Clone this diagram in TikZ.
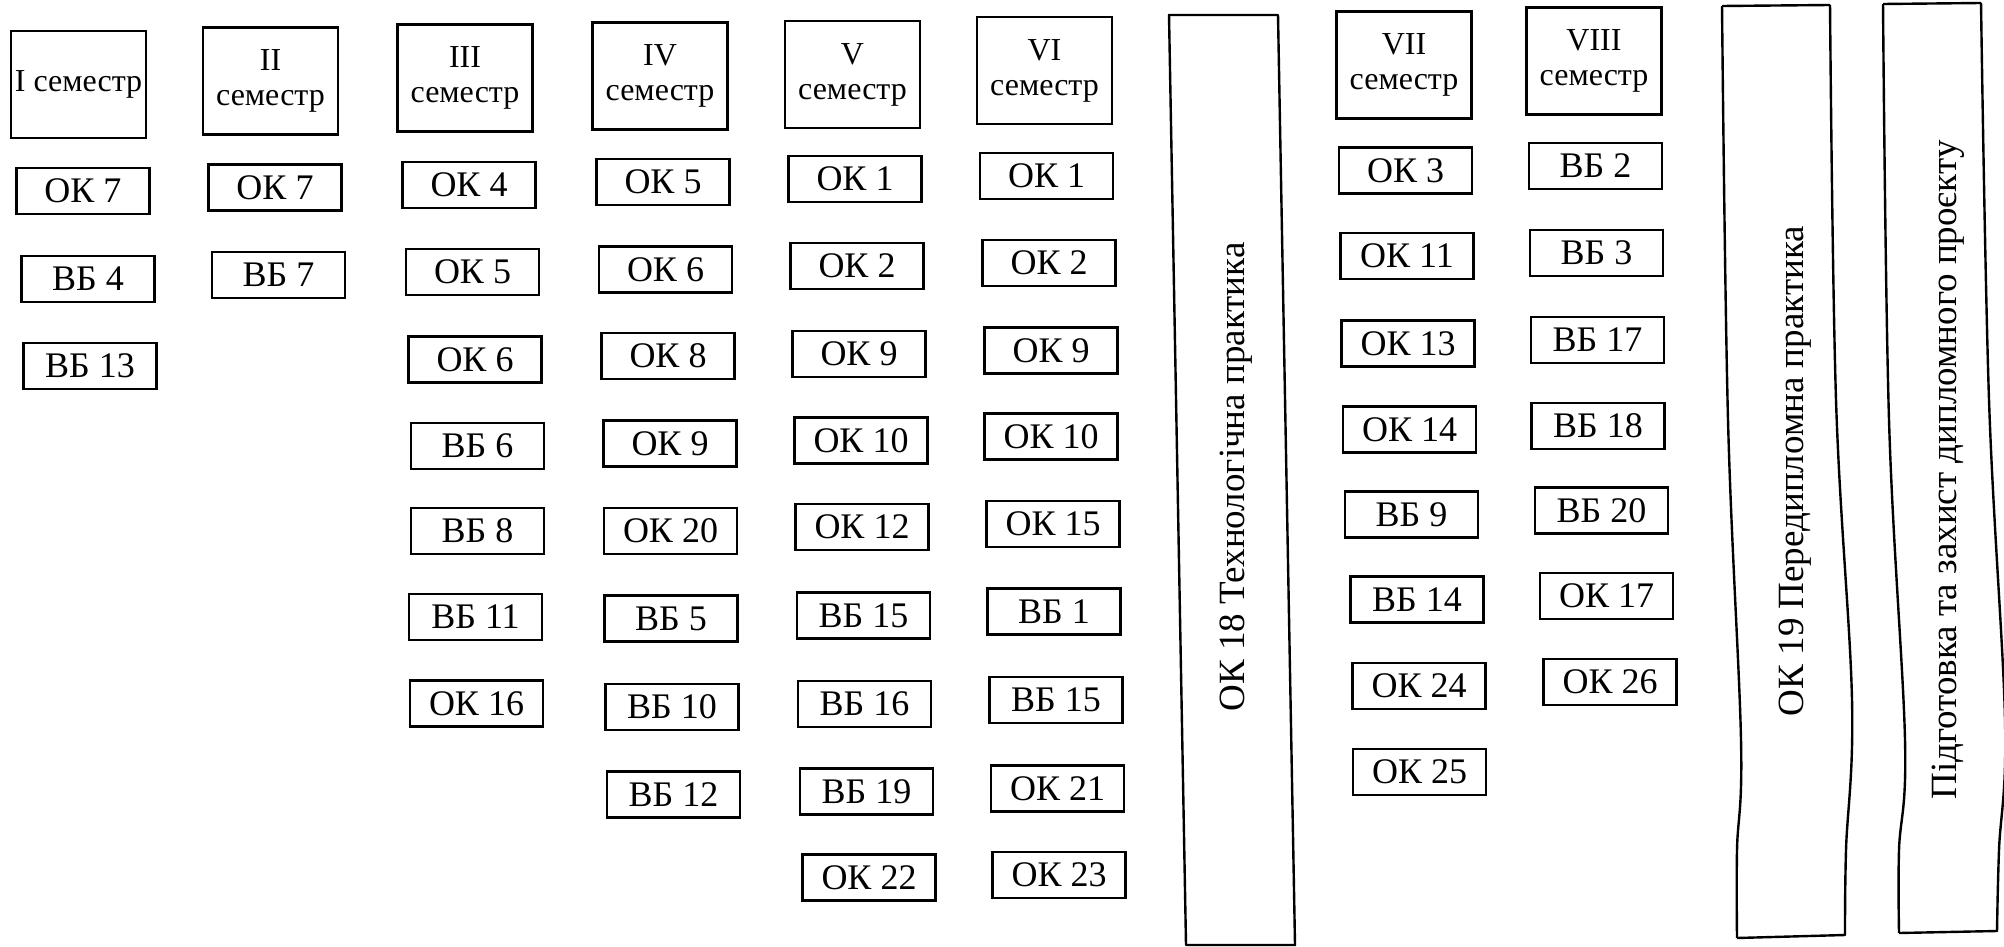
\documentclass[tikz,border=0pt]{standalone}
\usepackage{fontspec}
\setmainfont{Liberation Serif}
\begin{document}
\begin{tikzpicture}[x=1pt,y=-1pt,
  lab/.style={draw, line width=2.4pt, minimum width=133pt, minimum height=46pt, inner sep=0pt, font=\fontsize{36}{40}\selectfont},
  hdr/.style={draw, line width=2.4pt, minimum width=135pt, minimum height=107pt, inner sep=0pt, align=center, font=\fontsize{32}{35}\selectfont},
  vtext/.style={rotate=90, inner sep=0pt, font=\fontsize{37}{40}\selectfont},
  frm/.style={line width=2.4pt, line join=round}]
\useasboundingbox (0,0) rectangle (2004,947);
\fill[white] (0,0) rectangle (2004,947);
% Column I
\node[hdr] (h1) at (78.5,84.5) {I семестр};
\node[lab] (a1) at (83,191) {ОК 7};
\node[lab] (a2) at (88,279) {ВБ 4};
\node[lab] (a3) at (90,366) {ВБ 13};
% Column II
\node[hdr] (h2) at (270.5,81) {II\\семестр};
\node[lab] (b1) at (275,187.5) {ОК 7};
\node[lab] (b2) at (278.5,275) {ВБ 7};
% Column III
\node[hdr] (h3) at (465,78) {III\\семестр};
\node[lab] (c1) at (469,185) {ОК 4};
\node[lab] (c2) at (472.5,272) {ОК 5};
\node[lab] (c3) at (475,359.5) {ОК 6};
\node[lab] (c4) at (477.5,446) {ВБ 6};
\node[lab] (c5) at (477.5,531) {ВБ 8};
\node[lab] (c6) at (475.5,617) {ВБ 11};
\node[lab] (c7) at (476.5,703.5) {ОК 16};
% Column IV
\node[hdr] (h4) at (660,76) {IV\\семестр};
\node[lab] (d1) at (663,182) {ОК 5};
\node[lab] (d2) at (665.5,269.5) {ОК 6};
\node[lab] (d3) at (668,356) {ОК 8};
\node[lab] (d4) at (670,443.5) {ОК 9};
\node[lab] (d5) at (670.5,531) {ОК 20};
\node[lab] (d6) at (671,618.5) {ВБ 5};
\node[lab] (d7) at (672,707) {ВБ 10};
\node[lab] (d8) at (673.5,794.5) {ВБ 12};
% Column V
\node[hdr] (h5) at (852.5,74.5) {V\\семестр};
\node[lab] (e1) at (855,179) {ОК 1};
\node[lab] (e2) at (857,266) {ОК 2};
\node[lab] (e3) at (859,354) {ОК 9};
\node[lab] (e4) at (861,440.5) {ОК 10};
\node[lab] (e5) at (862,527) {ОК 12};
\node[lab] (e6) at (863.5,615.5) {ВБ 15};
\node[lab] (e7) at (864.5,704) {ВБ 16};
\node[lab] (e8) at (866.5,791.5) {ВБ 19};
\node[lab] (e9) at (869,877.5) {ОК 22};
% Column VI
\node[hdr] (h6) at (1044.5,70.5) {VI\\семестр};
\node[lab] (f1) at (1046.5,176) {ОК 1};
\node[lab] (f2) at (1049,263) {ОК 2};
\node[lab] (f3) at (1051,350.5) {ОК 9};
\node[lab] (f4) at (1051,436.5) {ОК 10};
\node[lab] (f5) at (1053,524) {ОК 15};
\node[lab] (f6) at (1054,611.5) {ВБ 1};
\node[lab] (f7) at (1056,700) {ВБ 15};
\node[lab] (f8) at (1057.5,788.5) {ОК 21};
\node[lab] (f9) at (1059,875) {ОК 23};
% OK 18 practice
\draw[frm] (1169,15) -- (1278,15) -- (1295,945) -- (1186,945) -- cycle;
\node[vtext] (p18) at (1236,477) {ОК 18 Технологічна практика};
% Column VII
\node[hdr] (h7) at (1404,65) {VII\\семестр};
\node[lab] (g1) at (1405.5,170.5) {ОК 3};
\node[lab] (g2) at (1407,256) {ОК 11};
\node[lab] (g3) at (1408,343.5) {ОК 13};
\node[lab] (g4) at (1409.5,429.5) {ОК 14};
\node[lab] (g5) at (1411.5,514.5) {ВБ 9};
\node[lab] (g6) at (1417,599.5) {ВБ 14};
\node[lab] (g7) at (1419,686) {ОК 24};
\node[lab] (g8) at (1419.5,772) {ОК 25};
% Column VIII
\node[hdr] (h8) at (1594,61) {VIII\\семестр};
\node[lab] (k1) at (1595.5,166) {ВБ 2};
\node[lab] (k2) at (1596.5,253) {ВБ 3};
\node[lab] (k3) at (1597.5,340) {ВБ 17};
\node[lab] (k4) at (1598,426) {ВБ 18};
\node[lab] (k5) at (1601.5,510.5) {ВБ 20};
\node[lab] (k6) at (1606.5,596) {ОК 17};
\node[lab] (k7) at (1610,682) {ОК 26};
% OK 19 wavy box
\draw[frm] (1722,6) -- (1830,5)
  plot[smooth, tension=0.6] coordinates {(1830,5) (1836,400) (1852,700) (1846,850) (1845,935)}
  -- (1737,938)
  plot[smooth, tension=0.6] coordinates {(1737,938) (1737,850) (1741,740) (1728,420) (1722,6)};
\node[vtext] (p19) at (1795,471) {ОК 19 Передипломна практика};
% Diploma wavy box
\draw[frm] (1883,4) -- (1981,3)
  plot[smooth, tension=0.6] coordinates {(1981,3) (1989,400) (2005,720) (1999,850) (1997,931)}
  -- (1899,933)
  plot[smooth, tension=0.6] coordinates {(1899,933) (1899,850) (1905,740) (1889,420) (1883,4)};
\node[vtext] (pd) at (1948,470) {Підготовка та захист дипломного проєкту};
\end{tikzpicture}
\end{document}
